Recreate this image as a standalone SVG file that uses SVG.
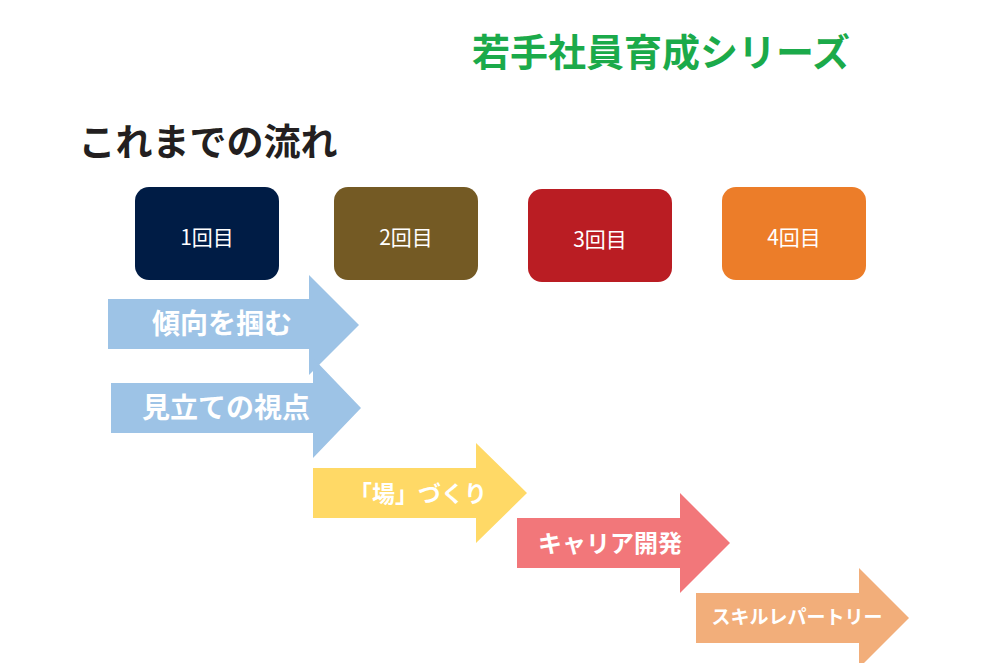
<svg xmlns="http://www.w3.org/2000/svg" width="998" height="663" viewBox="0 0 998 663">
<style>
text{font-family:"Noto Sans CJK JP","Noto Sans",sans-serif}
.bl{fill:#fff;font-size:21px;text-anchor:middle}
.al{fill:#fff;font-weight:bold;text-anchor:middle}
</style>
<rect width="998" height="663" fill="#fff"/>
<text x="661" y="66" font-size="38" font-weight="bold" fill="#1BAA4A" text-anchor="middle">若手社員育成シリーズ</text>
<text x="208" y="156" font-size="37" font-weight="bold" fill="#231F20" text-anchor="middle">これまでの流れ</text>
<g id="n1"><rect x="135" y="187" width="144" height="93" rx="14" fill="#001C45"/><text class="bl" x="207" y="245">1回目</text></g>
<g id="n2"><rect x="334" y="187" width="144" height="93" rx="14" fill="#745A24"/><text class="bl" x="406" y="245">2回目</text></g>
<g id="n3"><rect x="528" y="189" width="144" height="93" rx="14" fill="#BA1D23"/><text class="bl" x="600" y="247">3回目</text></g>
<g id="n4"><rect x="722" y="187" width="144" height="93" rx="14" fill="#EC7D29"/><text class="bl" x="794" y="245">4回目</text></g>
<g id="connectors">
<g id="a1"><polygon points="108,299 309,299 309,275 359,325 309,375 309,349 108,349" fill="#9DC3E6"/><text class="al" x="222" y="334" font-size="28">傾向を掴む</text></g>
<g id="a2"><polygon points="111,383 313,383 313,358 361,408 313,458 313,433 111,433" fill="#9DC3E6"/><text class="al" x="226" y="418" font-size="28">見立ての視点</text></g>
<g id="a3"><polygon points="313,468 476,468 476,443 527,493 476,543 476,518 313,518" fill="#FFD966"/><text class="al" x="418" y="502" font-size="23">「場」づくり</text></g>
<g id="a4"><polygon points="517,518 680,518 680,493 730,543 680,593 680,568 517,568" fill="#F2777A"/><text class="al" x="610" y="552" font-size="24">キャリア開発</text></g>
<g id="a5"><polygon points="696,593 859,593 859,568 909,618 859,668 859,643 696,643" fill="#F2AE7A"/><text class="al" x="797" y="624" font-size="19">スキルレパートリー</text></g>
</g>
</svg>
